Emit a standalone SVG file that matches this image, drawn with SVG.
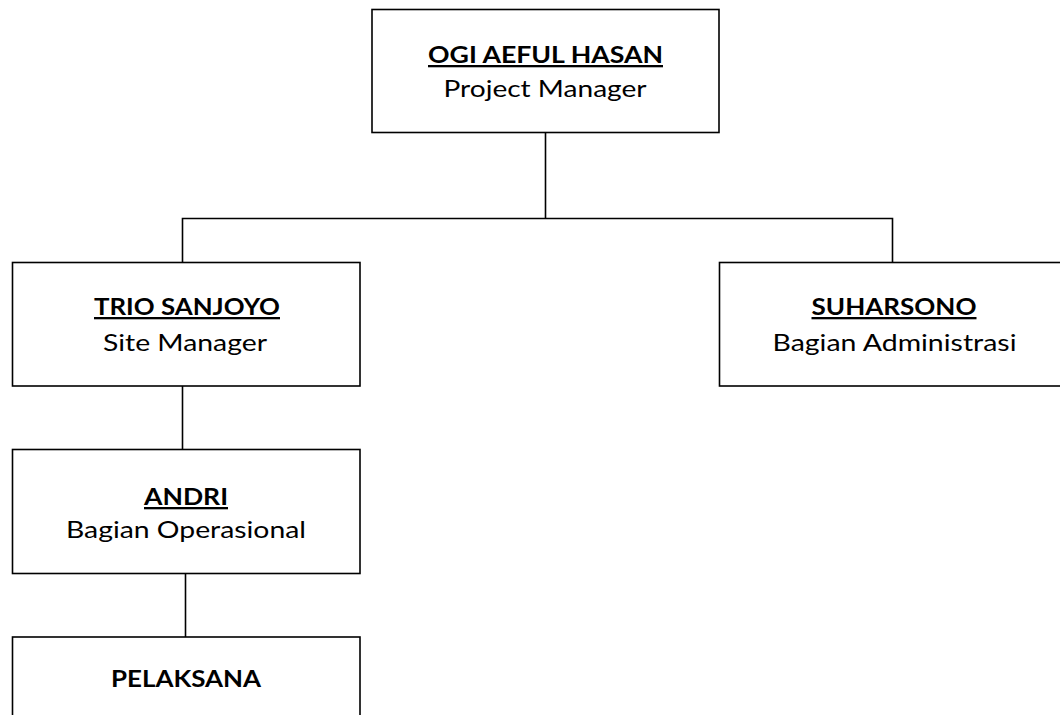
<svg xmlns="http://www.w3.org/2000/svg" width="1060" height="715" viewBox="0 0 1060 715">
<style>
.box{fill:#fff;stroke:#000;stroke-width:1.6}
.ln{fill:none;stroke:#000;stroke-width:1.6}
.nm{font-family:Lato,"Open Sans","Liberation Sans",sans-serif;font-weight:bold;font-size:23px;text-anchor:middle;fill:#000;text-decoration:underline}
.pl{font-family:Lato,"Open Sans","Liberation Sans",sans-serif;font-weight:bold;font-size:23px;text-anchor:middle;fill:#000}
.rl{font-family:Lato,"Open Sans","Liberation Sans",sans-serif;font-size:23px;text-anchor:middle;fill:#000}
</style>
<rect width="1060" height="715" fill="#fff"/>
<g id="connectors">
<path class="ln" d="M545.5 132.5V218.5M182.5 262.5V218.5H892.5V262.5"/>
<path class="ln" d="M182.5 386V449.5"/>
<path class="ln" d="M185.5 573.5V637"/>
</g>
<g id="n-ogi">
<rect class="box" x="372" y="9.5" width="347" height="123"/>
<text class="nm" x="545.5" y="63" textLength="235" lengthAdjust="spacingAndGlyphs">OGI AEFUL HASAN</text>
<text class="rl" x="545" y="97" textLength="203" lengthAdjust="spacingAndGlyphs">Project Manager</text>
</g>
<g id="n-trio">
<rect class="box" x="12.5" y="262.5" width="347.5" height="123.5"/>
<text class="nm" x="187" y="315" textLength="186" lengthAdjust="spacingAndGlyphs">TRIO SANJOYO</text>
<text class="rl" x="185" y="351" textLength="164" lengthAdjust="spacingAndGlyphs">Site Manager</text>
</g>
<g id="n-suharsono">
<rect class="box" x="719.5" y="262.5" width="347.5" height="123.5"/>
<text class="nm" x="894" y="315" textLength="165" lengthAdjust="spacingAndGlyphs">SUHARSONO</text>
<text class="rl" x="894.5" y="351" textLength="244" lengthAdjust="spacingAndGlyphs">Bagian Administrasi</text>
</g>
<g id="n-andri">
<rect class="box" x="12.5" y="449.5" width="347.5" height="124"/>
<text class="nm" x="186" y="505" textLength="84" lengthAdjust="spacingAndGlyphs">ANDRI</text>
<text class="rl" x="186" y="538" textLength="240" lengthAdjust="spacingAndGlyphs">Bagian Operasional</text>
</g>
<g id="n-pelaksana">
<rect class="box" x="12.5" y="637" width="347.5" height="123.5"/>
<text class="pl" x="186" y="687" textLength="150" lengthAdjust="spacingAndGlyphs">PELAKSANA</text>
</g>
</svg>
